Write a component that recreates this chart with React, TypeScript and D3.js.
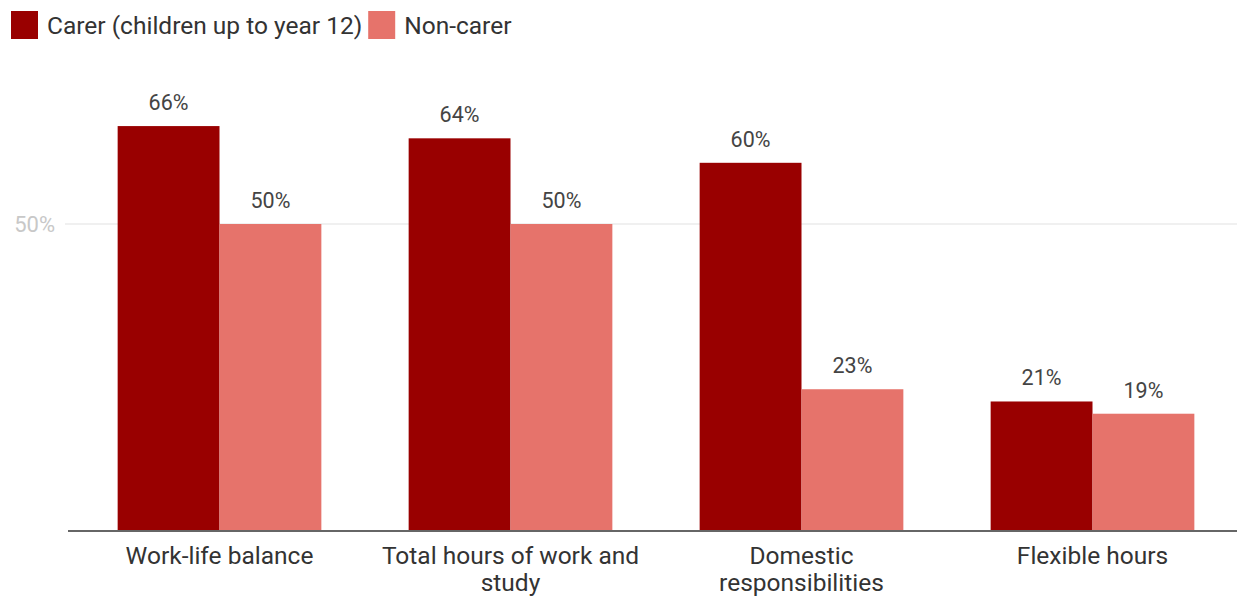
import React, { useEffect, useRef } from 'react';
import * as d3 from 'd3';

const categories = ['Work-life balance', 'Total hours of work and study', 'Domestic responsibilities', 'Flexible hours'];
const seriesNames = ['Carer (children up to year 12)', 'Non-carer'];
const carer = [66, 64, 60, 21];
const nonCarer = [50, 50, 23, 19];
const yTicks = [50];

const colors = ['#990000', '#e6736b'];
const W = 1237;
const H = 596;

const App: React.FC = () => {
  const svgRef = useRef<SVGSVGElement>(null);

  useEffect(() => {
    document.body.style.margin = '0';
    if (!svgRef.current) return;
    const svg = d3.select(svgRef.current);
    svg.selectAll('*').remove();
    const font = 'Roboto, "Noto Sans", sans-serif';

    const x = d3.scaleBand<string>().domain(categories).range([74, 1238]).paddingInner(0.3).paddingOuter(0.15);
    const xs = d3.scaleBand<string>().domain(seriesNames).range([0, x.bandwidth()]);
    const y = d3.scaleLinear().domain([0, 50]).range([530, 224]);

    // gridline + tick label
    const grid = svg.append('g');
    yTicks.forEach(t => {
      grid.append('line')
        .attr('x1', 65).attr('x2', W).attr('y1', y(t)).attr('y2', y(t))
        .attr('stroke', '#ebebeb').attr('stroke-width', 1.5);
      grid.append('text')
        .attr('x', 55).attr('y', y(t)).attr('dy', '0.35em')
        .attr('text-anchor', 'end')
        .attr('fill', '#c8c8c8').attr('font-family', font).attr('font-size', '22px')
        .text(`${t}%`);
    });

    // bars
    const rows = categories.map((c, i) => ({ c, vals: [carer[i], nonCarer[i]] }));
    const groups = svg.selectAll('.grp').data(rows).enter().append('g')
      .attr('transform', d => `translate(${x(d.c)},0)`);

    seriesNames.forEach((s, si) => {
      groups.append('rect')
        .attr('x', xs(s) || 0)
        .attr('y', d => y(d.vals[si]))
        .attr('width', xs.bandwidth())
        .attr('height', d => y(0) - y(d.vals[si]))
        .attr('fill', colors[si]);
      groups.append('text')
        .attr('x', (xs(s) || 0) + xs.bandwidth() / 2)
        .attr('y', d => y(d.vals[si]) - 16)
        .attr('text-anchor', 'middle')
        .attr('fill', '#444').attr('font-family', font).attr('font-size', '21.5px')
        .text(d => `${d.vals[si]}%`);
    });

    // baseline
    svg.append('line')
      .attr('x1', 68).attr('x2', W).attr('y1', y(0) + 1).attr('y2', y(0) + 1)
      .attr('stroke', '#666').attr('stroke-width', 2);

    // category labels with wrap
    const maxW = 262;
    categories.forEach(c => {
      const cx = (x(c) || 0) + x.bandwidth() / 2;
      const t = svg.append('text')
        .attr('x', cx)
        .attr('y', 564)
        .attr('text-anchor', 'middle')
        .attr('fill', '#333').attr('font-family', font).attr('font-size', '24.5px');
      const words = c.split(' ');
      let line: string[] = [];
      let tspan = t.append('tspan').attr('x', cx).attr('dy', 0);
      words.forEach(w => {
        line.push(w);
        tspan.text(line.join(' '));
        if ((tspan.node() as SVGTSpanElement).getComputedTextLength() > maxW && line.length > 1) {
          line.pop();
          tspan.text(line.join(' '));
          line = [w];
          tspan = t.append('tspan').attr('x', cx).attr('dy', 27).text(w);
        }
      });
    });

    // legend
    const leg = svg.append('g');
    let lx = 11;
    seriesNames.forEach((s, si) => {
      leg.append('rect').attr('x', lx).attr('y', 11).attr('width', 27).attr('height', 28).attr('fill', colors[si]);
      const tx = leg.append('text')
        .attr('x', lx + 36).attr('y', 25).attr('dy', '0.35em')
        .attr('fill', '#333').attr('font-family', font).attr('font-size', '24.5px')
        .text(s);
      lx += 36 + (tx.node() as SVGTextElement).getComputedTextLength() + 6;
    });
  }, []);

  return <svg ref={svgRef} width={W} height={H} style={{ display: 'block', background: '#fff' }} />;
};

export default App;
